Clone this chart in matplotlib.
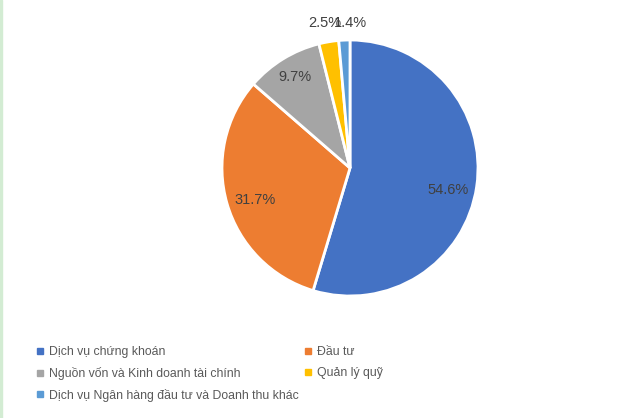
import numpy as np
import matplotlib.pyplot as plt
from matplotlib.lines import Line2D
from matplotlib.patches import Rectangle

plt.rcParams['font.family'] = ['Liberation Sans', 'DejaVu Sans']

# dữ liệu
labels = ['Dịch vụ chứng khoán', 'Đầu tư', 'Nguồn vốn và Kinh doanh tài chính',
          'Quản lý quỹ', 'Dịch vụ Ngân hàng đầu tư và Doanh thu khác']
values = [54.6, 31.7, 9.7, 2.5, 1.4]
colors = ['#4472C4', '#ED7D31', '#A5A5A5', '#FFC000', '#5B9BD5']

# vị trí nhãn (khoảng cách theo bán kính, độ lệch góc)
label_dist = [0.785, 0.783, 0.833, 1.151, 1.133]
label_nudge = [-4.3, 2.2, -0.5, 0.3, -2.5]

W, H = 619, 418
fig = plt.figure(figsize=(W / 100, H / 100), dpi=100)
fig.patch.set_facecolor('white')

# đường viền xanh nhạt bên trái
fig.patches.append(Rectangle((0, 0), 2 / W, 1, transform=fig.transFigure,
                             color='#d3ecd3', zorder=0))

cx, cy, r = 350, 168, 128
ax = fig.add_axes([(cx - r) / W, (H - cy - r) / H, 2 * r / W, 2 * r / H])

wedges, _ = ax.pie(values, colors=colors, startangle=90, counterclock=False,
                   wedgeprops=dict(edgecolor='white', linewidth=2))
ax.set_xlim(-1, 1)
ax.set_ylim(-1, 1)
ax.axis('off')

# nhãn phần trăm
for w, v, d, nd in zip(wedges, values, label_dist, label_nudge):
    ang = np.deg2rad((w.theta1 + w.theta2) / 2 + nd)
    ax.text(d * np.cos(ang), d * np.sin(ang), f'{v:.1f}%', ha='center', va='center',
            fontsize=10.5, color='#404040', clip_on=False)

# chú thích
handles = [Line2D([], [], marker='s', linestyle='', color=c, markersize=5) for c in colors]
order = [0, 2, 4, 1, 3]
fig.legend([handles[i] for i in order], [labels[i] for i in order],
           ncol=2, loc='upper left', bbox_to_anchor=(37 / W, 1 - 346 / H),
           frameon=False, fontsize=8.8, labelcolor='#595959',
           handlelength=0.5, handletextpad=0.45, columnspacing=0.56,
           labelspacing=0.72, borderpad=0, borderaxespad=0)

plt.savefig('out.png', dpi=100)
